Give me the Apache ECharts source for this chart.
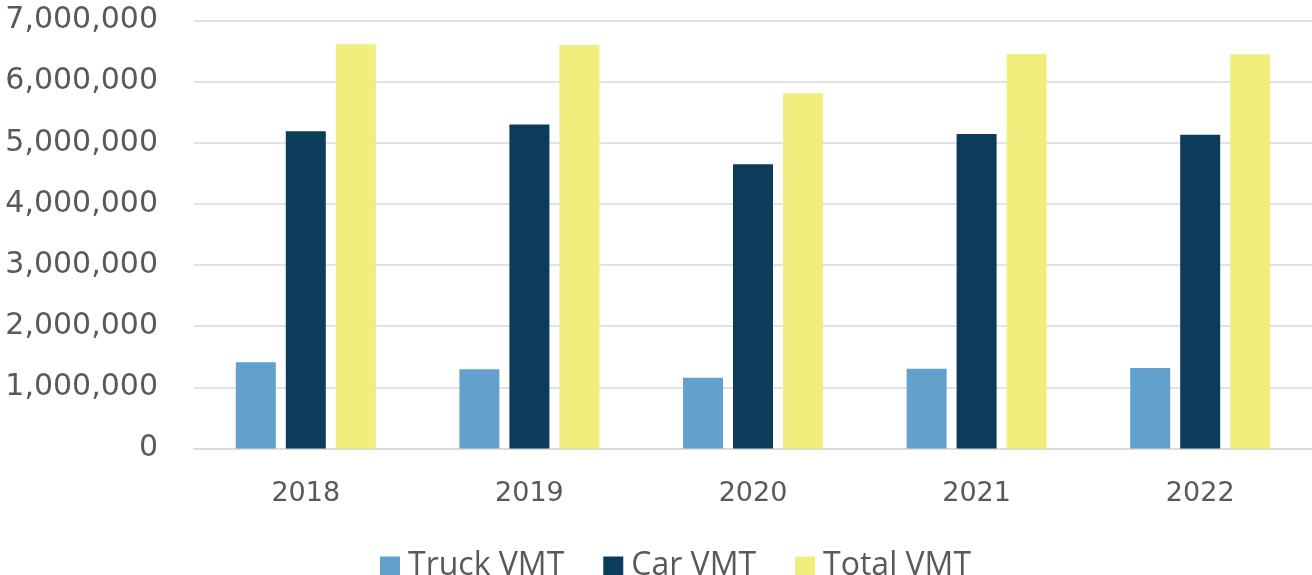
<!DOCTYPE html>
<html>
<head>
<meta charset="utf-8">
<script src="https://cdn.jsdelivr.net/npm/echarts@6/dist/echarts.min.js"></script>
<style>
html,body{margin:0;padding:0;background:#fff;}
#chart{width:1312px;height:575px;}
</style>
</head>
<body>
<div id="chart"></div>
<script>
const years = ['2018', '2019', '2020', '2021', '2022'];
const truckVMT = [1410000, 1295000, 1158000, 1305000, 1317000];
const carVMT = [5188000, 5300000, 4648000, 5144000, 5133000];
const totalVMT = [6611000, 6600000, 5810000, 6452000, 6450000];
const seriesNames = ['Truck VMT', 'Car VMT', 'Total VMT'];
const yTicks = { min: 0, max: 7000000, interval: 1000000 };

const textColor = '#595959';
const chart = echarts.init(document.getElementById('chart'));
chart.setOption({
  animation: false,
  backgroundColor: '#ffffff',
  grid: { left: 194, right: 0, top: 20.5, bottom: 126.5, containLabel: false },
  legend: {
    data: seriesNames,
    left: 375,
    top: 545,
    itemWidth: 20,
    itemHeight: 19,
    itemGap: 39,
    icon: 'rect',
    textStyle: { color: textColor, fontSize: 32, fontFamily: 'Open Sans', padding: [0, 0, 0, 3] }
  },
  xAxis: {
    type: 'category',
    data: years,
    axisLine: { show: true, lineStyle: { color: '#d9d9d9', width: 1.5 } },
    axisTick: { show: false },
    axisLabel: { color: textColor, fontSize: 27, fontFamily: 'DejaVu Sans', margin: 32 }
  },
  yAxis: {
    type: 'value',
    min: yTicks.min,
    max: yTicks.max,
    interval: yTicks.interval,
    axisLine: { show: false },
    axisTick: { show: false },
    splitLine: { lineStyle: { color: '#d9d9d9', width: 1.5 } },
    axisLabel: {
      color: textColor, fontSize: 30, fontFamily: 'DejaVu Sans', margin: 36,
      formatter: v => v.toLocaleString('en-US')
    }
  },
  series: [
    { name: seriesNames[0], type: 'bar', data: truckVMT, barWidth: 40, barGap: '25%', itemStyle: { color: '#62A1CC' } },
    { name: seriesNames[1], type: 'bar', data: carVMT, barWidth: 40, barGap: '25%', itemStyle: { color: '#0B3D5A' } },
    { name: seriesNames[2], type: 'bar', data: totalVMT, barWidth: 40, barGap: '25%', itemStyle: { color: '#F0EE7C' } }
  ]
});
</script>
</body>
</html>
